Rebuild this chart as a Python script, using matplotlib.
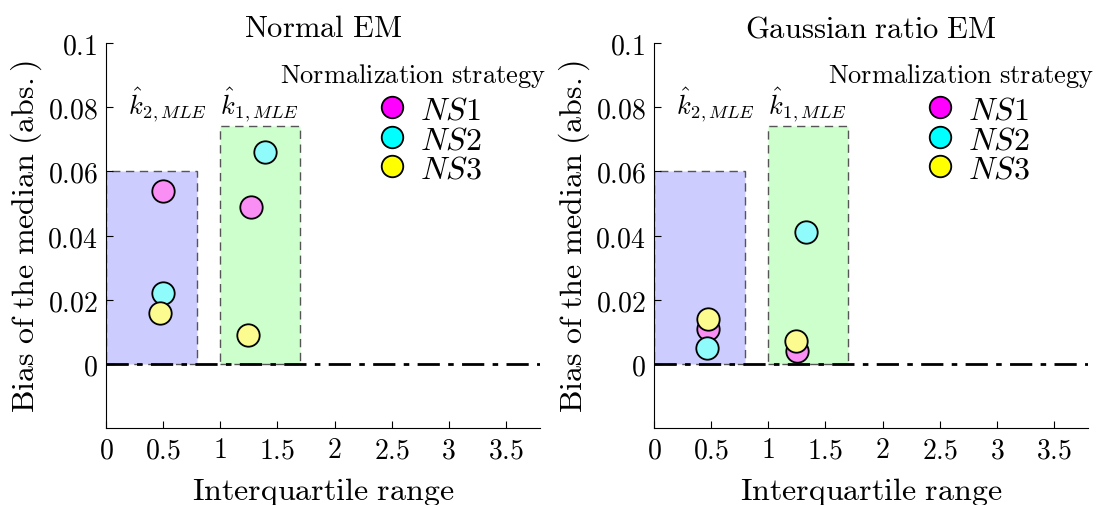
import matplotlib
matplotlib.use("Agg")
import matplotlib.pyplot as plt
from matplotlib.patches import Rectangle
from matplotlib.lines import Line2D

plt.rcParams['mathtext.fontset'] = 'cm'
plt.rcParams['font.family'] = ['DejaVu Serif']

# data
titles = ["Normal EM", "Gaussian ratio EM"]
strategies = ["NS1", "NS2", "NS3"]
full_colors = ["#ff00ff", "#00ffff", "#ffff00"]
soft_colors = ["#f98ff5", "#8ffbfb", "#fbfb8f"]

# x positions (IQR) and y values (bias) for k2 and k1 per strategy
normal_x = {"NS1": [0.50, 1.27], "NS2": [0.50, 1.39], "NS3": [0.47, 1.24]}
normal_y = {"NS1": [0.054, 0.049], "NS2": [0.022, 0.066], "NS3": [0.016, 0.009]}
gauss_x = {"NS1": [0.47, 1.25], "NS2": [0.46, 1.33], "NS3": [0.47, 1.24]}
gauss_y = {"NS1": [0.011, 0.004], "NS2": [0.005, 0.041], "NS3": [0.014, 0.007]}

# shaded regions: (x0, x1, height)
k2_box = (0.0, 0.8, 0.060)
k1_box = (1.0, 1.7, 0.074)
box_labels = [r"$\hat{k}_{2,MLE}$", r"$\hat{k}_{1,MLE}$"]
label_x = [0.54, 1.34]

xticks = [0, 0.5, 1, 1.5, 2, 2.5, 3, 3.5]
yticks = [0, 0.02, 0.04, 0.06, 0.08, 0.1]

fig = plt.figure(figsize=(11.05, 5.06), dpi=100)
ax1 = fig.add_axes([0.0959, 0.152, 0.393, 0.761])
ax2 = fig.add_axes([0.5919, 0.152, 0.393, 0.761])

for ax, title, xs, ys in [(ax1, titles[0], normal_x, normal_y),
                          (ax2, titles[1], gauss_x, gauss_y)]:
    for (x0, x1, h), fc in [(k2_box, "#ccccff"), (k1_box, "#ccffcc")]:
        ax.add_patch(Rectangle((x0, 0), x1 - x0, h, facecolor=fc,
                               edgecolor="#555555", linestyle=(0, (6, 4)),
                               linewidth=1.0, zorder=1))
    for lx, lab in zip(label_x, box_labels):
        ax.text(lx, 0.0752, lab, fontsize=19, ha="center", va="bottom")

    ax.plot([0, 3.8], [0, 0], color="black", linestyle=(0, (8, 3, 2, 3)),
            linewidth=2, zorder=2)

    for s, c in zip(strategies, soft_colors):
        ax.scatter(xs[s], ys[s], s=260, facecolor=c, edgecolor="black",
                   linewidth=1.3, zorder=3)

    # legend: title as separate text, entries below it
    ax.text(1.013, 0.953, r"$\mathrm{Normalization\ strategy}$", fontsize=19,
            ha="right", va="top", transform=ax.transAxes)
    handles = [Line2D([], [], marker="o", linestyle="none", markersize=15.5,
                      markerfacecolor=fc, markeredgecolor="black",
                      markeredgewidth=1.3, label=r"$NS%s$" % s[-1])
               for s, fc in zip(strategies, full_colors)]
    ax.legend(handles=handles, loc="upper left", frameon=False,
              fontsize=23, bbox_to_anchor=(0.624, 0.866),
              handletextpad=0.4, labelspacing=-0.05, borderpad=0.0,
              borderaxespad=0.0, handlelength=0.95)

    ax.set_xlim(0, 3.8)
    ax.set_ylim(-0.02, 0.1)
    ax.set_xticks(xticks)
    ax.set_xticklabels([r"$\mathrm{%g}$" % t for t in xticks], fontsize=20)
    ax.set_yticks(yticks)
    ax.set_yticklabels([r"$\mathrm{%g}$" % t for t in yticks], fontsize=20)
    ax.tick_params(direction="in", length=5, width=0.8, pad=6)
    ax.spines["top"].set_visible(False)
    ax.spines["right"].set_visible(False)
    ax.set_title(r"$\mathrm{%s}$" % title.replace(" ", r"\ "), fontsize=22, pad=5)
    ax.set_xlabel(r"$\mathrm{Interquartile\ range}$", fontsize=23, labelpad=8)
    ax.set_ylabel(r"$\mathrm{Bias\ of\ the\ median\ (abs.)}$", fontsize=23, labelpad=2)

fig.savefig("out.png", dpi=100)
